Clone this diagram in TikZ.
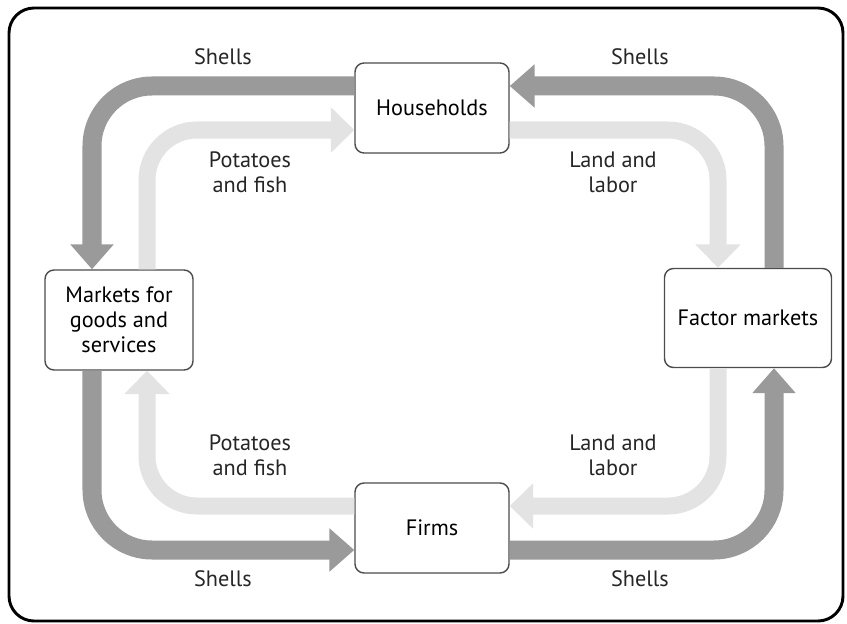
\documentclass[tikz,border=0pt]{standalone}
\usepackage{fontspec}
\setmainfont{PT Sans}
\usepackage{tikz}
\usetikzlibrary{arrows.meta}

\definecolor{shellgray}{HTML}{9A9A9A}
\definecolor{goodsgray}{HTML}{E3E3E3}

\tikzset{
  agent/.style={draw=black!70, line width=1.2pt, rounded corners=0.27cm, fill=white,
                align=center, inner sep=0pt, font=\fontsize{19}{21.5}\selectfont},
  flowtext/.style={align=center, text=black!85, font=\fontsize{19}{21.5}\selectfont},
  shells/.style={draw=shellgray, line width=0.57cm, rounded corners=1.8cm,
                 -{Triangle[width=1.26cm, length=0.75cm]}},
  goods/.style={draw=goodsgray, line width=0.51cm, rounded corners=1.5cm,
                -{Triangle[width=1.32cm, length=0.7cm]}}
}

\begin{document}
\begin{tikzpicture}[x=0.03cm, y=-0.03cm]
        \useasboundingbox (0,0) rectangle (847,624);
        \draw [line width=2.5pt, rounded corners=0.75cm] (9,8) rectangle (843,621); %frame

        \node [agent, minimum width=4.62cm, minimum height=2.7cm]  (hh) at (432,108) {Households};
        \node [agent, minimum width=4.44cm, minimum height=3cm]    (mk) at (119,320) {Markets for\\goods and\\services};
        \node [agent, minimum width=5.01cm, minimum height=2.97cm] (fm) at (748,318) {Factor markets};
        \node [agent, minimum width=4.62cm, minimum height=2.7cm]  (fi) at (432,528) {Firms};

        %outer loop: shells
        \draw [shells] ([yshift=0.66cm]hh.west)   -| ([xshift=-0.81cm]mk.north);  %
        \draw [shells] ([xshift=-0.81cm]mk.south) |- ([yshift=-0.66cm]fi.west);   %
        \draw [shells] ([yshift=-0.66cm]fi.east)  -| ([xshift=0.78cm]fm.south);   %
        \draw [shells] ([xshift=0.78cm]fm.north)  |- ([yshift=0.66cm]hh.east);    %

        %inner loop: goods and factors
        \draw [goods]  ([xshift=0.84cm]mk.north)  |- ([yshift=-0.66cm]hh.west);   %
        \draw [goods]  ([yshift=-0.66cm]hh.east)  -| ([xshift=-0.9cm]fm.north);   %
        \draw [goods]  ([xshift=-0.9cm]fm.south)  |- ([yshift=0.66cm]fi.east);    %
        \draw [goods]  ([yshift=0.66cm]fi.west)   -| ([xshift=0.84cm]mk.south);   %

        \node [flowtext] (shtl) at (223,57)  {Shells};
        \node [flowtext] (shtr) at (640,57)  {Shells};
        \node [flowtext] (shbl) at (223,579) {Shells};
        \node [flowtext] (shbr) at (640,579) {Shells};
        \node [flowtext] (pftop) at (250,172) {Potatoes\\and fish};
        \node [flowtext] (pfbot) at (250,455) {Potatoes\\and fish};
        \node [flowtext] (lltop) at (613,172) {Land and\\labor};
        \node [flowtext] (llbot) at (613,455) {Land and\\labor};
\end{tikzpicture}
\end{document}
